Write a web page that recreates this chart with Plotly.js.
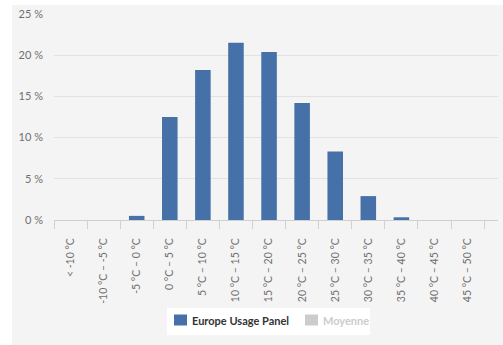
<!DOCTYPE html>
<html>
<head>
<meta charset="utf-8">
<script src="https://cdn.plot.ly/plotly-3.0.1.min.js"></script>
<style>
  html, body { margin: 0; padding: 0; background: #ffffff; }
  #chart { position: absolute; left: 12px; top: 5px; width: 491px; height: 340px; }
</style>
</head>
<body>
<div id="chart"></div>
<script>
// Temperature bands (categories)
const categories = [
  "< -10 °C", "-10 °C – -5 °C", "-5 °C – 0 °C", "0 °C – 5 °C", "5 °C – 10 °C",
  "10 °C – 15 °C", "15 °C – 20 °C", "20 °C – 25 °C", "25 °C – 30 °C",
  "30 °C – 35 °C", "35 °C – 40 °C", "40 °C – 45 °C", "45 °C – 50 °C"
];
// Share of usage per band, in percent
const panelValues = [0, 0, 0.5, 12.5, 18.2, 21.5, 20.4, 14.2, 8.3, 2.9, 0.33, 0, 0];

// Series names shown in the legend (the second one is switched off)
const seriesNames = ["Europe Usage Panel", "Moyenne"];

// Y axis ticks
const yTicks = [0, 5, 10, 15, 20, 25];
const yTickText = ["0 %", "5 %", "10 %", "15 %", "20 %", "25 %"];

const W = 491, H = 340;
const M = { l: 42, r: 5, t: 9, b: 125 };
const bg = "#f4f4f4";
const fontFamily = "Lato, 'Open Sans', sans-serif";

// pixel (inside the chart div) -> paper coordinates
const pw = W - M.l - M.r, ph = H - M.t - M.b;
const px = v => (v - M.l) / pw;
const py = v => (H - M.b - v) / ph;

const traces = [
  {
    type: "bar",
    name: seriesNames[0],
    x: categories,
    y: panelValues,
    marker: { color: "#4571a8" },
    hoverinfo: "x+y",
    showlegend: false
  }
];

// Legend box drawn by hand: white panel, two swatches, two labels
const shapes = [
  { type: "rect", xref: "paper", yref: "paper", x0: px(155), x1: px(358), y0: py(303), y1: py(330),
    fillcolor: "#ffffff", line: { width: 0 }, layer: "above" },
  { type: "rect", xref: "paper", yref: "paper", x0: px(162), x1: px(175), y0: py(309.5), y1: py(320.5),
    fillcolor: "#4571a8", line: { width: 0 }, layer: "above" },
  { type: "rect", xref: "paper", yref: "paper", x0: px(293), x1: px(306), y0: py(309.5), y1: py(320.5),
    fillcolor: "#cccccc", line: { width: 0 }, layer: "above" }
];
const annotations = [
  { xref: "paper", yref: "paper", x: px(178), y: py(315), xanchor: "left", yanchor: "middle",
    showarrow: false, text: seriesNames[0],
    font: { family: fontFamily, size: 11, color: "#333333", weight: "bold" } },
  { xref: "paper", yref: "paper", x: px(309), y: py(315), xanchor: "left", yanchor: "middle",
    showarrow: false, text: seriesNames[1],
    font: { family: fontFamily, size: 11, color: "#cccccc", weight: "bold" } }
];

const layout = {
  width: W,
  height: H,
  paper_bgcolor: bg,
  plot_bgcolor: bg,
  margin: M,
  bargap: 0.53,
  showlegend: false,
  font: { family: fontFamily, color: "#666666", size: 10 },
  xaxis: {
    type: "category",
    range: [-0.5, 12.92],
    tickson: "boundaries",
    ticks: "outside",
    ticklen: 8,
    tickcolor: "#d0d0d0",
    showline: true,
    linecolor: "#d0d0d0",
    linewidth: 1,
    showgrid: false,
    tickangle: -90,
    ticklabelstandoff: 13,
    tickfont: { family: fontFamily, size: 10.5, color: "#707070" },
    fixedrange: true
  },
  yaxis: {
    range: [0, 25],
    tickvals: yTicks,
    ticktext: yTickText,
    showgrid: true,
    gridcolor: "#e2e2e2",
    gridwidth: 1,
    zeroline: false,
    showline: false,
    ticks: "",
    ticklabelstandoff: 10,
    tickfont: { family: fontFamily, size: 11, color: "#707070" },
    fixedrange: true
  },
  shapes: shapes,
  annotations: annotations
};

Plotly.newPlot("chart", traces, layout, { displayModeBar: false, staticPlot: true });
</script>
</body>
</html>
